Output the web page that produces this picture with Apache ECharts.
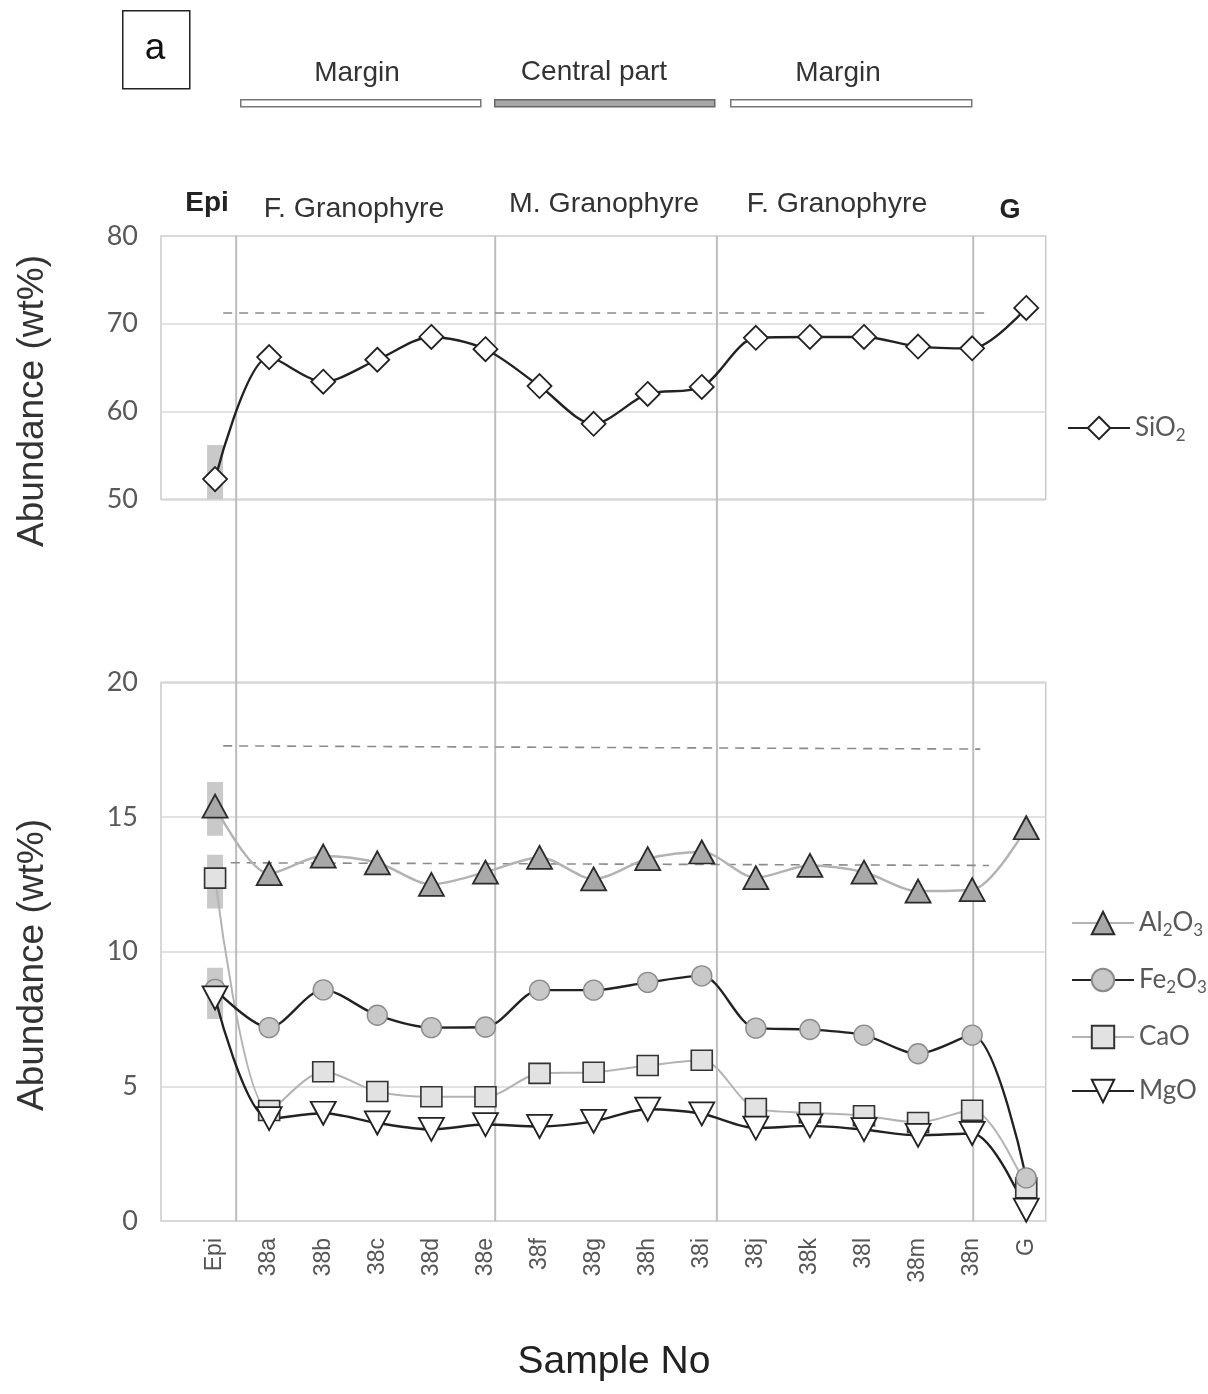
<!DOCTYPE html>
<html>
<head>
<meta charset="utf-8">
<script src="https://cdn.jsdelivr.net/npm/echarts@6/dist/echarts.min.js"></script>
<style>
html,body{margin:0;padding:0;background:#fff;}
#chart{width:1208px;height:1394px;}
</style>
</head>
<body>
<div id="chart"></div>
<script>
// ---- data ----
const categories = ['Epi','38a','38b','38c','38d','38e','38f','38g','38h','38i','38j','38k','38l','38m','38n','G'];
const sio2  = [52.3,66.2,63.4,65.9,68.5,67.1,62.9,58.6,62.0,62.8,68.4,68.5,68.5,67.4,67.2,71.8];
const al2o3 = [15.4,12.9,13.55,13.3,12.5,12.95,13.5,12.7,13.45,13.7,12.75,13.2,12.95,12.25,12.3,14.6];
const fe2o3 = [8.6,7.18,8.58,7.64,7.18,7.2,8.57,8.57,8.86,9.1,7.16,7.11,6.9,6.21,6.9,1.6];
const cao   = [12.73,4.1,5.54,4.81,4.61,4.61,5.48,5.52,5.77,5.97,4.18,4.02,3.91,3.66,4.11,1.23];
const mgo   = [8.28,3.8,4.0,3.64,3.4,3.58,3.51,3.7,4.15,3.98,3.45,3.53,3.39,3.18,3.25,0.4];

// Epi range bars [x, low, high]
const epiRangeTop = [[0, 50, 56.2]];
const epiRangeBottom = [[0, 14.3, 16.3], [0, 11.6, 13.6], [0, 7.5, 9.4]];

// dashed reference lines (x in category index units)
const refTopX = [0.15, 14.3],   refTopY = [71.3, 71.3];
const refUpX  = [0.15, 14.15],  refUpY  = [17.64, 17.52];
const refLowX = [0.29, 14.31],  refLowY = [13.3, 13.2];

// zone separators (x in category index units)
const separators = [0.39, 5.18, 9.28, 14.02];

const topTicks = [50, 60, 70, 80];
const bottomTicks = [0, 5, 10, 15, 20];

// ---- helpers ----
const pairs = arr => arr.map((v, i) => [i, v]);
const xMin = -1, xMax = 15.36;
const gridLeft = 161, gridWidth = 884.7;
const tickFont = 'Lato, "Open Sans", sans-serif';
const armFont = '"Liberation Sans", Arial, sans-serif';

function sub(name) {
  return name.replace(/(\d)/g, '{s|$1}');
}

function rangeRender(params, api) {
  const x = api.value(0);
  const lo = api.coord([x, api.value(1)]);
  const hi = api.coord([x, api.value(2)]);
  const w = 16;
  return {type: 'rect', shape: {x: lo[0] - w / 2, y: hi[1], width: w, height: lo[1] - hi[1]},
          style: {fill: '#c9c9c9'}};
}
function sepRender(params, api) {
  const x = api.value(0);
  const a = api.coord([x, 0]);
  const b = api.coord([x, 1]);
  return {type: 'line', shape: {x1: a[0], y1: a[1], x2: b[0], y2: b[1]},
          style: {stroke: '#bdbdbd', lineWidth: 2}};
}
function dashLine(xs, ys) {
  return {silent: true, symbol: 'none', label: {show: false},
    lineStyle: {type: [9, 7], color: '#8a8a8a', width: 1.6},
    data: [[{coord: [xs[0], ys[0]]}, {coord: [xs[1], ys[1]]}]]};
}

const triDown = 'path://M0,0 L20,0 L10,18 Z';
const triUp = 'path://M10,0 L20,18 L0,18 Z';

const chart = echarts.init(document.getElementById('chart'), null, {renderer: 'canvas'});

const legendText = {fontSize: 26, color: '#595959', fontFamily: tickFont,
  rich: {s: {fontSize: 17, color: '#595959', fontFamily: tickFont, padding: [15, 0, 0, 0]}}};

const option = {
  backgroundColor: '#ffffff',
  animation: false,
  grid: [
    {left: gridLeft, width: gridWidth, top: 236, height: 263.3, show: true, borderColor: '#cacaca', borderWidth: 1.5},
    {left: gridLeft, width: gridWidth, top: 682.3, height: 538.7, show: true, borderColor: '#cacaca', borderWidth: 1.5},
    {left: gridLeft, width: gridWidth, top: 236, height: 985, show: false}
  ],
  xAxis: [
    {type: 'value', gridIndex: 0, min: xMin, max: xMax, interval: 1,
     axisLine: {show: false}, axisTick: {show: false}, axisLabel: {show: false}, splitLine: {show: false}},
    {type: 'value', gridIndex: 1, min: xMin, max: xMax, interval: 1,
     axisLine: {show: false}, axisTick: {show: false}, splitLine: {show: false},
     axisLabel: {show: true, rotate: 90, margin: 17, fontSize: 23, color: '#555', fontFamily: armFont,
       showMaxLabel: false, showMinLabel: false,
       formatter: v => (Number.isInteger(v) && categories[v] !== undefined) ? categories[v] : ''}},
    {type: 'value', gridIndex: 2, min: xMin, max: xMax, show: false}
  ],
  yAxis: [
    {type: 'value', gridIndex: 0, min: topTicks[0], max: topTicks[topTicks.length - 1], interval: 10,
     axisLine: {show: false}, axisTick: {show: false},
     splitLine: {show: true, lineStyle: {color: '#d9d9d9', width: 1.5}},
     axisLabel: {fontSize: 27, color: '#595959', margin: 23, fontFamily: tickFont}},
    {type: 'value', gridIndex: 1, min: bottomTicks[0], max: bottomTicks[bottomTicks.length - 1], interval: 5,
     axisLine: {show: false}, axisTick: {show: false},
     splitLine: {show: true, lineStyle: {color: '#d9d9d9', width: 1.5}},
     axisLabel: {fontSize: 27, color: '#595959', margin: 23, fontFamily: tickFont}},
    {type: 'value', gridIndex: 2, min: 0, max: 1, show: false}
  ],
  legend: [
    {data: ['SiO2'], orient: 'vertical', left: 1062, top: 410, itemWidth: 62, itemHeight: 28, itemGap: 20,
     formatter: sub, textStyle: legendText},
    {data: ['Al2O3', 'Fe2O3', 'CaO', 'MgO'], orient: 'vertical', left: 1066, top: 905, itemWidth: 62, itemHeight: 28,
     itemGap: 28, formatter: sub, textStyle: legendText}
  ],
  series: [
    {type: 'custom', xAxisIndex: 2, yAxisIndex: 2, z: 1, silent: true,
     data: separators.map(x => [x]), renderItem: sepRender, encode: {x: 0}},
    {type: 'custom', xAxisIndex: 0, yAxisIndex: 0, z: 2, silent: true,
     data: epiRangeTop, renderItem: rangeRender, encode: {x: 0, y: [1, 2]}},
    {type: 'custom', xAxisIndex: 1, yAxisIndex: 1, z: 2, silent: true,
     data: epiRangeBottom, renderItem: rangeRender, encode: {x: 0, y: [1, 2]}},
    {name: 'SiO2', type: 'line', xAxisIndex: 0, yAxisIndex: 0, z: 5, smooth: 0.3,
     data: pairs(sio2), symbol: 'diamond', symbolSize: 24,
     lineStyle: {color: '#222', width: 2.4},
     itemStyle: {color: '#ffffff', borderColor: '#222', borderWidth: 1.8},
     markLine: dashLine(refTopX, refTopY)},
    {name: 'Al2O3', type: 'line', xAxisIndex: 1, yAxisIndex: 1, z: 5, smooth: 0.3,
     data: pairs(al2o3), symbol: triUp, symbolSize: [25, 23],
     lineStyle: {color: '#b3b3b3', width: 2.5},
     itemStyle: {color: '#a8a8a8', borderColor: '#2b2b2b', borderWidth: 1.8},
     markLine: dashLine(refUpX, refUpY)},
    {name: 'CaO', type: 'line', xAxisIndex: 1, yAxisIndex: 1, z: 5, smooth: 0.3,
     data: pairs(cao), symbol: 'rect', symbolSize: [21, 20],
     lineStyle: {color: '#b3b3b3', width: 2},
     itemStyle: {color: '#e2e2e2', borderColor: '#333', borderWidth: 1.6},
     markLine: dashLine(refLowX, refLowY)},
    {name: 'Fe2O3', type: 'line', xAxisIndex: 1, yAxisIndex: 1, z: 5, smooth: 0.3,
     data: pairs(fe2o3), symbol: 'circle', symbolSize: 20,
     lineStyle: {color: '#222', width: 2.4},
     itemStyle: {color: '#c8c8c8', borderColor: '#8a8a8a', borderWidth: 1.4}},
    {name: 'MgO', type: 'line', xAxisIndex: 1, yAxisIndex: 1, z: 5, smooth: 0.3,
     data: pairs(mgo), symbol: triDown, symbolSize: [25, 23],
     lineStyle: {color: '#222', width: 2.4},
     itemStyle: {color: '#ffffff', borderColor: '#222', borderWidth: 1.8}}
  ],
  graphic: [
    {type: 'rect', left: 122, top: 10, shape: {width: 67, height: 78}, style: {fill: '#fff', stroke: '#222', lineWidth: 1.5}},
    {type: 'text', x: 155, y: 49, style: {text: 'a', fontSize: 37, fontFamily: armFont, fill: '#111', align: 'center', verticalAlign: 'middle'}},
    {type: 'text', x: 357, y: 73, style: {text: 'Margin', fontSize: 28, fontFamily: armFont, fill: '#333', align: 'center', verticalAlign: 'middle'}},
    {type: 'text', x: 594, y: 72, style: {text: 'Central part', fontSize: 28, fontFamily: armFont, fill: '#333', align: 'center', verticalAlign: 'middle'}},
    {type: 'text', x: 838, y: 73, style: {text: 'Margin', fontSize: 28, fontFamily: armFont, fill: '#333', align: 'center', verticalAlign: 'middle'}},
    {type: 'rect', left: 240, top: 99, shape: {width: 240, height: 7}, style: {fill: '#fff', stroke: '#777', lineWidth: 1.5}},
    {type: 'rect', left: 494, top: 99, shape: {width: 220, height: 7}, style: {fill: '#a6a6a6', stroke: '#666', lineWidth: 1.5}},
    {type: 'rect', left: 730, top: 99, shape: {width: 241, height: 7}, style: {fill: '#fff', stroke: '#777', lineWidth: 1.5}},
    {type: 'text', x: 207, y: 203, style: {text: 'Epi', fontSize: 28, fontWeight: 'bold', fontFamily: armFont, fill: '#222', align: 'center', verticalAlign: 'middle'}},
    {type: 'text', x: 354, y: 209, style: {text: 'F. Granophyre', fontSize: 28.5, fontFamily: armFont, fill: '#333', align: 'center', verticalAlign: 'middle'}},
    {type: 'text', x: 604, y: 204, style: {text: 'M. Granophyre', fontSize: 28.5, fontFamily: armFont, fill: '#333', align: 'center', verticalAlign: 'middle'}},
    {type: 'text', x: 837, y: 204, style: {text: 'F. Granophyre', fontSize: 28.5, fontFamily: armFont, fill: '#333', align: 'center', verticalAlign: 'middle'}},
    {type: 'text', x: 1010, y: 211, style: {text: 'G', fontSize: 27, fontWeight: 'bold', fontFamily: armFont, fill: '#222', align: 'center', verticalAlign: 'middle'}},
    {type: 'text', x: 33, y: 401, rotation: Math.PI / 2, style: {text: 'Abundance (wt%)', fontSize: 37, fontFamily: armFont, fill: '#333', align: 'center', verticalAlign: 'middle'}},
    {type: 'text', x: 33, y: 965, rotation: Math.PI / 2, style: {text: 'Abundance (wt%)', fontSize: 37, fontFamily: armFont, fill: '#333', align: 'center', verticalAlign: 'middle'}},
    {type: 'text', x: 614, y: 1362, style: {text: 'Sample No', fontSize: 39, fontFamily: armFont, fill: '#222', align: 'center', verticalAlign: 'middle'}}
  ]
};
chart.setOption(option);
</script>
</body>
</html>
